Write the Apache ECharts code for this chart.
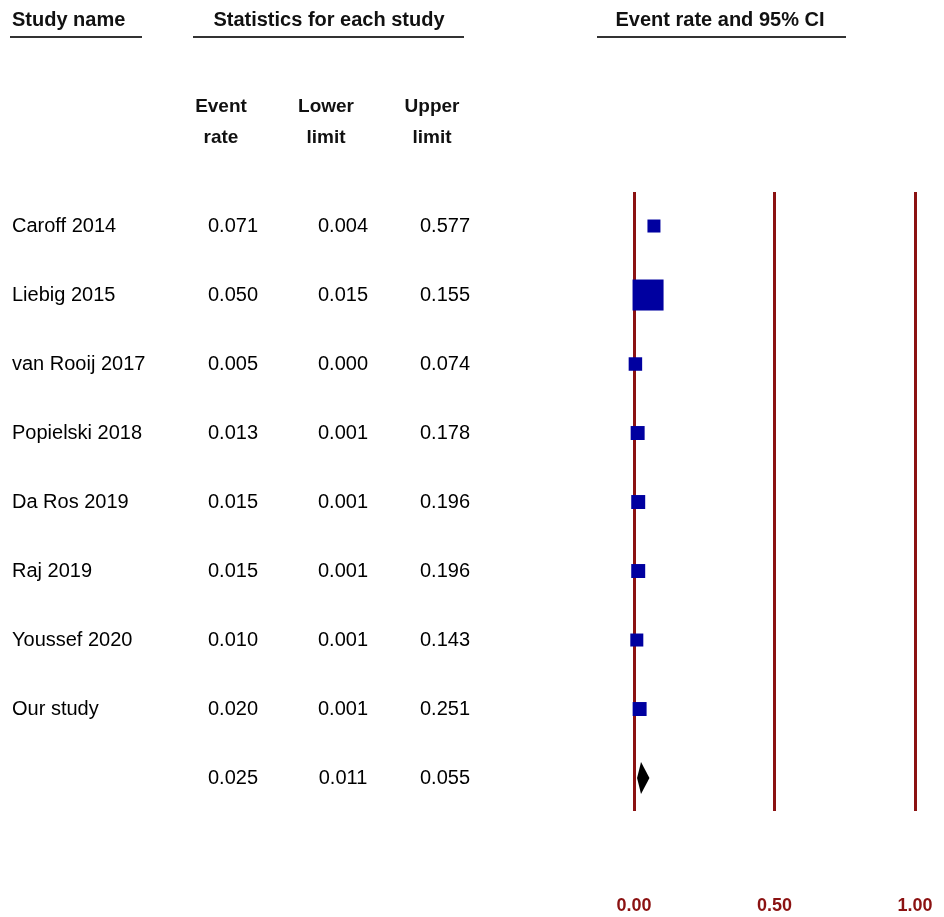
<!DOCTYPE html>
<html>
<head>
<meta charset="utf-8">
<script src="https://cdn.jsdelivr.net/npm/echarts@6/dist/echarts.min.js"></script>
<style>
  html, body { margin: 0; padding: 0; background: #fff; }
  #chart { width: 944px; height: 917px; }
</style>
</head>
<body>
<div id="chart"></div>
<script>
// forest plot data
const studies = ['Caroff 2014', 'Liebig 2015', 'van Rooij 2017', 'Popielski 2018',
  'Da Ros 2019', 'Raj 2019', 'Youssef 2020', 'Our study'];
const eventRate = [0.071, 0.050, 0.005, 0.013, 0.015, 0.015, 0.010, 0.020];
const lowerLimit = [0.004, 0.015, 0.000, 0.001, 0.001, 0.001, 0.001, 0.001];
const upperLimit = [0.577, 0.155, 0.074, 0.178, 0.196, 0.196, 0.143, 0.251];
// relative weights (box area)
const weights = [6.5, 37, 7, 7.5, 7.5, 7.5, 6.5, 7.5];
// pooled: rate, lower, upper
const pooled = [0.025, 0.011, 0.055];
const xTicks = [0, 0.5, 1];

const FONT = 'Liberation Sans, Arial, sans-serif';
const DARKRED = '#8b1212';
const rowMin = -0.493, rowMax = 8.478;
const pooledRow = studies.length;

// column centres of the left table (pixel units of the hidden axis)
const colName = 12, colRate = 233, colLow = 343, colUp = 445;

function fmt(v) { return v.toFixed(3); }

function textSeries(col, values, pos) {
  return {
    type: 'scatter',
    xAxisIndex: 1,
    yAxisIndex: 1,
    symbolSize: 0,
    silent: true,
    itemStyle: { opacity: 1 },
    data: values.map((v, i) => [col, i, v]),
    label: {
      show: true,
      position: pos,
      distance: 0,
      formatter: p => p.data[2],
      fontFamily: FONT,
      fontSize: 20,
      color: '#000',
      opacity: 1
    }
  };
}

let chart = echarts.init(document.getElementById('chart'));

let option = {
  animation: false,
  backgroundColor: '#fff',
  grid: [
    { left: 634, right: 29, top: 192, bottom: 106 },
    { left: 0, width: 480, top: 192, bottom: 106 }
  ],
  xAxis: [
    {
      type: 'value', gridIndex: 0, min: xTicks[0], max: xTicks[xTicks.length - 1],
      interval: xTicks[1] - xTicks[0],
      axisLine: { show: false },
      axisTick: { show: false },
      splitLine: { show: true, lineStyle: { color: DARKRED, width: 3 } },
      axisLabel: {
        formatter: v => v.toFixed(2),
        color: DARKRED, fontWeight: 'bold', fontSize: 18, fontFamily: FONT,
        margin: 86, showMinLabel: true, showMaxLabel: true
      }
    },
    { type: 'value', gridIndex: 1, min: 0, max: 480, show: false }
  ],
  yAxis: [
    { type: 'value', gridIndex: 0, min: rowMin, max: rowMax, inverse: true, show: false },
    { type: 'value', gridIndex: 1, min: rowMin, max: rowMax, inverse: true, show: false }
  ],
  series: [
    {
      type: 'scatter',
      symbol: 'rect',
      data: eventRate.map((v, i) => [v, i, weights[i]]),
      symbolSize: d => 5.1 * Math.sqrt(d[2]),
      itemStyle: { color: '#0000a0', opacity: 1 }
    },
    {
      type: 'custom',
      data: [[pooled[0], pooledRow, pooled[1], pooled[2]]],
      renderItem: (params, api) => {
        let r = api.value(1);
        let mid = api.coord([api.value(0), r]);
        let lo = api.coord([api.value(2), r]);
        let hi = api.coord([api.value(3), r]);
        let h = 16;
        return {
          type: 'polygon',
          shape: { points: [[lo[0], mid[1]], [mid[0], mid[1] - h], [hi[0], mid[1]], [mid[0], mid[1] + h]] },
          style: { fill: '#000' }
        };
      }
    },
    textSeries(colName, studies, 'right'),
    textSeries(colRate, eventRate.concat([pooled[0]]).map(fmt), 'inside'),
    textSeries(colLow, lowerLimit.concat([pooled[1]]).map(fmt), 'inside'),
    textSeries(colUp, upperLimit.concat([pooled[2]]).map(fmt), 'inside')
  ],
  graphic: [
    { type: 'text', left: 12, top: 10, style: { text: 'Study name', font: 'bold 20px ' + FONT, fill: '#111' } },
    { type: 'text', x: 329, y: 20, style: { text: 'Statistics for each study', font: 'bold 20px ' + FONT, fill: '#111', textAlign: 'center', textVerticalAlign: 'middle' } },
    { type: 'text', x: 720, y: 20, style: { text: 'Event rate and 95% CI', font: 'bold 20px ' + FONT, fill: '#111', textAlign: 'center', textVerticalAlign: 'middle' } },
    { type: 'line', shape: { x1: 10, y1: 37, x2: 142, y2: 37 }, style: { stroke: '#333', lineWidth: 2 } },
    { type: 'line', shape: { x1: 193, y1: 37, x2: 464, y2: 37 }, style: { stroke: '#333', lineWidth: 2 } },
    { type: 'line', shape: { x1: 597, y1: 37, x2: 846, y2: 37 }, style: { stroke: '#333', lineWidth: 2 } },
    { type: 'text', x: 221, y: 122, style: { text: 'Event\nrate', font: 'bold 19px ' + FONT, lineHeight: 31, fill: '#111', textAlign: 'center', textVerticalAlign: 'middle' } },
    { type: 'text', x: 326, y: 122, style: { text: 'Lower\nlimit', font: 'bold 19px ' + FONT, lineHeight: 31, fill: '#111', textAlign: 'center', textVerticalAlign: 'middle' } },
    { type: 'text', x: 432, y: 122, style: { text: 'Upper\nlimit', font: 'bold 19px ' + FONT, lineHeight: 31, fill: '#111', textAlign: 'center', textVerticalAlign: 'middle' } }
  ]
};
chart.setOption(option);
</script>
</body>
</html>
